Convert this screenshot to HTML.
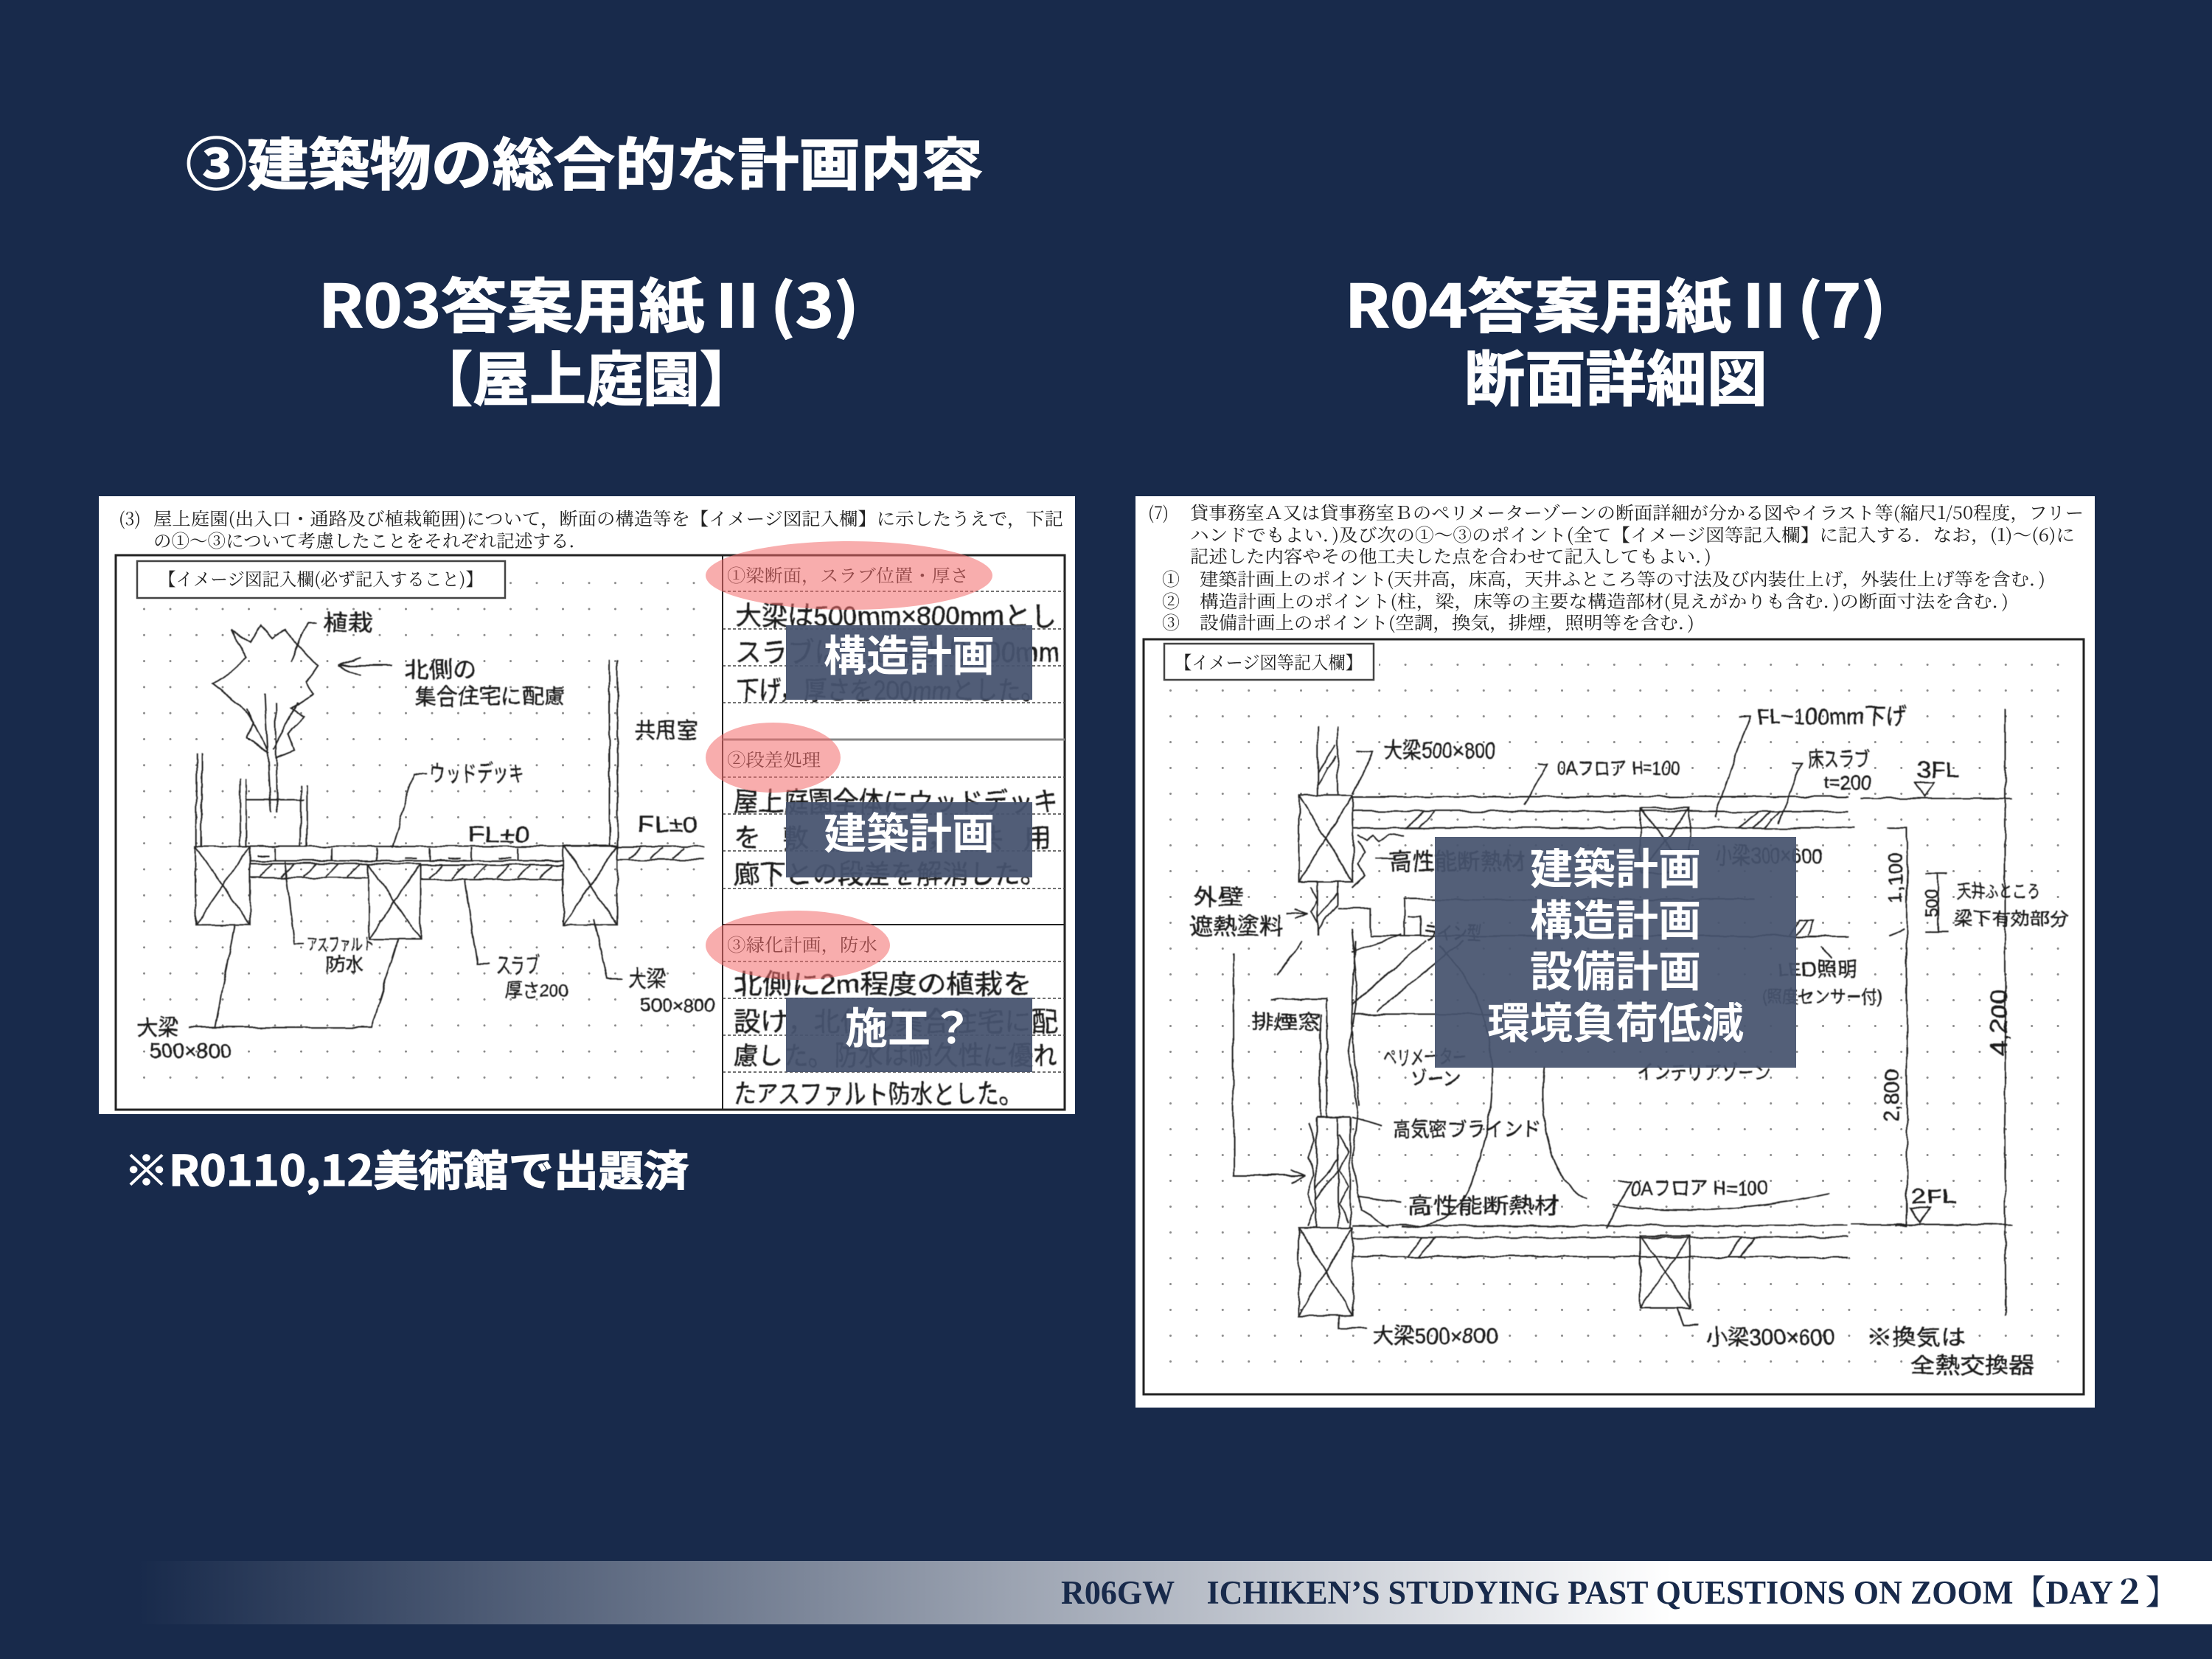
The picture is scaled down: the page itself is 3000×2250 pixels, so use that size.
<!DOCTYPE html>
<html lang="ja"><head><meta charset="utf-8"><title>建築物の総合的な計画内容</title>
<style>
html,body{margin:0;padding:0;background:#182a4b;width:3000px;height:2250px;overflow:hidden}
svg{display:block}
text{font-family:"Liberation Sans","Noto Sans CJK JP",sans-serif}
.t{font-family:"Noto Sans CJK JP",sans-serif;font-weight:700;fill:#fff;stroke:#fff;stroke-width:1.4px}
.o{font-family:"Noto Sans CJK JP",sans-serif;font-weight:700;fill:#fff;text-anchor:middle;font-size:58px}
.p{font-family:"Noto Serif CJK SC","Noto Sans CJK JP",serif;fill:#222;font-size:24px}
.h{font-family:"WenQuanYi Zen Hei","Noto Sans CJK JP",sans-serif;fill:#1c1c1c;font-size:30px;stroke:#1c1c1c;stroke-width:.4px}
.s line,.s polyline,.s rect,.s path{fill:none;stroke:#222;stroke-width:2;vector-effect:non-scaling-stroke}
</style></head><body>
<svg xmlns="http://www.w3.org/2000/svg" width="3000" height="2250" viewBox="0 0 3000 2250">
<defs>
<linearGradient id="g" x1="0" x2="1" y1="0" y2="0"><stop offset="0" stop-color="#182a4b"/><stop offset=".7395" stop-color="#fff"/><stop offset="1" stop-color="#fff"/></linearGradient>
<pattern id="d1" patternUnits="userSpaceOnUse" x="194" y="824.5" width="35.5" height="35.3"><circle cx="1.5" cy="1.5" r="1.5" fill="#8a8a8a"/></pattern>
<pattern id="d2" patternUnits="userSpaceOnUse" x="1586" y="900" width="35.4" height="35"><circle cx="1.5" cy="1.5" r="1.5" fill="#8a8a8a"/></pattern>
<filter id="w" x="-5%" y="-5%" width="110%" height="110%"><feTurbulence type="fractalNoise" baseFrequency=".035" numOctaves="2" seed="4"/><feDisplacementMap in="SourceGraphic" scale="6" xChannelSelector="R" yChannelSelector="G"/><feGaussianBlur stdDeviation=".5"/></filter>
</defs>
<rect width="3000" height="2250" fill="#182a4b"/>

<!-- headings -->
<text class="t" x="252" y="251" font-size="77" textLength="1081" lengthAdjust="spacingAndGlyphs">③建築物の総合的な計画内容</text>
<text class="t" x="432" y="444" font-size="80" textLength="733" lengthAdjust="spacingAndGlyphs">R03答案用紙Ⅱ(3)</text>
<text class="t" x="564" y="543" font-size="80" textLength="462" lengthAdjust="spacingAndGlyphs">【屋上庭園】</text>
<text class="t" x="1824" y="444" font-size="80" textLength="734" lengthAdjust="spacingAndGlyphs">R04答案用紙Ⅱ(7)</text>
<text class="t" x="1986" y="543" font-size="82" textLength="411" lengthAdjust="spacingAndGlyphs">断面詳細図</text>
<text class="t" x="168" y="1608" font-size="57" textLength="766" lengthAdjust="spacingAndGlyphs">※R0110,12美術館で出題済</text>

<!-- LEFT SHEET -->
<rect x="134" y="673" width="1324" height="838" fill="#fff"/>
<rect x="186" y="815" width="775" height="680" fill="url(#d1)"/>
<rect x="690" y="770" width="270" height="45" fill="url(#d1)"/>
<text class="p" x="161" y="712" textLength="30" lengthAdjust="spacingAndGlyphs">(3)</text>
<text class="p" x="208" y="712" textLength="1234" lengthAdjust="spacingAndGlyphs">屋上庭園(出入口・通路及び植栽範囲)について，断面の構造等を【イメージ図記入欄】に示したうえで，下記</text>
<text class="p" x="208" y="742" textLength="588" lengthAdjust="spacingAndGlyphs">の①～③について考慮したことをそれぞれ記述する．</text>
<rect x="157" y="753" width="1287" height="752" fill="none" stroke="#222" stroke-width="3"/>
<line x1="980" y1="753" x2="980" y2="1505" stroke="#222" stroke-width="2"/>
<rect x="186" y="761" width="499" height="50" fill="#fff" stroke="#444" stroke-width="2.5"/>
<text class="p" x="215" y="794" textLength="440" lengthAdjust="spacingAndGlyphs">【イメージ図記入欄(必ず記入すること)】</text>
<g stroke="#444" stroke-width="1.5" stroke-dasharray="4 3">
<line x1="980" x2="1444" y1="802" y2="802"/><line x1="980" x2="1444" y1="853" y2="853"/><line x1="980" x2="1444" y1="903" y2="903"/><line x1="980" x2="1444" y1="953" y2="953"/>
<line x1="980" x2="1444" y1="1054" y2="1054"/><line x1="980" x2="1444" y1="1104" y2="1104"/><line x1="980" x2="1444" y1="1154" y2="1154"/><line x1="980" x2="1444" y1="1205" y2="1205"/>
<line x1="980" x2="1444" y1="1304" y2="1304"/><line x1="980" x2="1444" y1="1354" y2="1354"/><line x1="980" x2="1444" y1="1404" y2="1404"/><line x1="980" x2="1444" y1="1454" y2="1454"/>
</g>
<line x1="980" x2="1444" y1="1003" y2="1003" stroke="#888" stroke-width="3"/>
<line x1="980" x2="1444" y1="1254" y2="1254" stroke="#222" stroke-width="2"/>
<text class="p" x="986" y="789" textLength="328" lengthAdjust="spacingAndGlyphs">①梁断面，スラブ位置・厚さ</text>
<text class="p" x="986" y="1039" textLength="127" lengthAdjust="spacingAndGlyphs">②段差処理</text>
<text class="p" x="986" y="1290" textLength="204" lengthAdjust="spacingAndGlyphs">③緑化計画，防水</text>
<g class="h" filter="url(#w)" style="font-size:36px">
<text x="997" y="848" textLength="436" lengthAdjust="spacingAndGlyphs">大梁は500mm×800mmとし</text>
<text x="997" y="897" textLength="440" lengthAdjust="spacingAndGlyphs">スラブは梁上端より200mm</text>
<text x="997" y="949" textLength="420" lengthAdjust="spacingAndGlyphs">下げ，厚さを200mmとした。</text>
<text x="995" y="1100" textLength="440" lengthAdjust="spacingAndGlyphs">屋上庭園全体にウッドデッキ</text>
<text x="995" y="1149" textLength="430" lengthAdjust="spacing">を敷設し，共用</text>
<text x="995" y="1198" textLength="425" lengthAdjust="spacingAndGlyphs">廊下との段差を解消した。</text>
<text x="995" y="1347" textLength="405" lengthAdjust="spacingAndGlyphs">北側に2m程度の植栽を</text>
<text x="995" y="1398" textLength="440" lengthAdjust="spacingAndGlyphs">設け，北側の集合住宅に配</text>
<text x="995" y="1444" textLength="440" lengthAdjust="spacingAndGlyphs">慮した。防水は耐久性に優れ</text>
<text x="995" y="1496" textLength="390" lengthAdjust="spacingAndGlyphs">たアスファルト防水とした。</text>
</g>
<g filter="url(#w)"><g class="s" transform="translate(130,670) scale(.8546,.542)">
<rect x="158" y="882" width="87" height="196"/><path d="M158 882L245 1078M245 882L158 1078"/>
<rect x="433" y="925" width="82" height="190"/><path d="M433 925L515 1115M515 925L433 1115"/>
<rect x="742" y="880" width="86" height="198"/><path d="M742 880L828 1078M828 880L742 1078"/>
<path d="M158 882H965M245 918H742M245 925H433M245 960H433M515 928H742M515 965H742M828 915H965"/>
<path d="M260 958L280 925M295 958L315 925M330 958L350 925M365 958L385 925M400 958L420 925M530 962L550 930M565 962L585 930M600 962L620 930M635 962L655 930M670 962L690 930M705 962L725 930M845 912L865 885M880 912L900 885M915 912L935 885"/>
<path d="M285 885V918M375 885V918M445 885V918M530 885V918M595 885V918M670 885V918M255 905H275M490 912H510M560 912H580M640 912H660"/>
<path d="M815 415V882M828 415V882M160 650V882M168 650V882M228 715V882M238 715V882M325 728V882M335 728V882M238 765H330"/>
<path d="M268 500L278 795M285 520L288 795M240 540L272 640M320 520L282 640"/>
<path d="M275 650L240 610L250 570L230 530L185 475L215 445L240 410L215 340L245 370L262 330L280 360L300 340L340 410L352 430L335 470L345 500L310 535L330 560L305 600L315 640L285 660"/>
<path d="M350 322H335L310 420"/>
<path d="M470 430H385M385 430L420 410M385 430L420 455"/>
<path d="M470 885L505 700H525M300 920L315 1125H330M585 965L605 1175H625M790 1065L812 1213H835M220 1080L190 1335M147 1335H437L480 1115"/>
</g>
<g class="h">
<text x="438" y="855" textLength="68" lengthAdjust="spacingAndGlyphs">植栽</text>
<text x="549" y="919" textLength="98" lengthAdjust="spacingAndGlyphs">北側の</text>
<text x="562" y="955" textLength="205" lengthAdjust="spacingAndGlyphs">集合住宅に配慮</text>
<text x="861" y="1001" textLength="85" lengthAdjust="spacingAndGlyphs">共用室</text>
<text x="583" y="1060" textLength="128" lengthAdjust="spacingAndGlyphs">ウッドデッキ</text>
<text x="634" y="1142" textLength="84" lengthAdjust="spacingAndGlyphs">FL±0</text>
<text x="865" y="1128" textLength="81" lengthAdjust="spacingAndGlyphs">FL±0</text>
<text x="416" y="1289" style="font-size:24px" textLength="90" lengthAdjust="spacingAndGlyphs">アスファルト</text>
<text x="442" y="1316" style="font-size:24px" textLength="51" lengthAdjust="spacingAndGlyphs">防水</text>
<text x="673" y="1320" textLength="59" lengthAdjust="spacingAndGlyphs">スラブ</text>
<text x="685" y="1352" style="font-size:26px" textLength="86" lengthAdjust="spacingAndGlyphs">厚さ200</text>
<text x="852" y="1338" textLength="51" lengthAdjust="spacingAndGlyphs">大梁</text>
<text x="869" y="1372" style="font-size:26px" textLength="100" lengthAdjust="spacingAndGlyphs">500×800</text>
<text x="187" y="1404" textLength="54" lengthAdjust="spacingAndGlyphs">大梁</text>
<text x="203" y="1434" style="font-size:26px" textLength="111" lengthAdjust="spacingAndGlyphs">500×800</text>
</g></g>
<g fill="#f26a6a" fill-opacity=".55">
<ellipse cx="1151.5" cy="780.5" rx="194.5" ry="46.5"/>
<ellipse cx="1048.5" cy="1027.5" rx="91.5" ry="47.5"/>
<ellipse cx="1082" cy="1282" rx="125" ry="47"/>
</g>
<g fill="#46536e" fill-opacity=".94">
<rect x="1066" y="848" width="334" height="101"/>
<rect x="1066" y="1088" width="334" height="102"/>
<rect x="1066" y="1353" width="334" height="101"/>
</g>
<text class="o" x="1233" y="910">構造計画</text>
<text class="o" x="1233" y="1151">建築計画</text>
<text class="o" x="1233" y="1415">施工？</text>

<!-- RIGHT SHEET -->
<rect x="1540" y="673" width="1301" height="1236" fill="#fff"/>
<rect x="1580" y="925" width="1225" height="945" fill="url(#d2)"/>
<rect x="1870" y="892" width="935" height="33" fill="url(#d2)"/>
<text class="p" x="1557" y="704" textLength="28" lengthAdjust="spacingAndGlyphs">(7)</text>
<text class="p" x="1614" y="704" textLength="1212" lengthAdjust="spacingAndGlyphs">貸事務室Ａ又は貸事務室Ｂのペリメーターゾーンの断面詳細が分かる図やイラスト等(縮尺1/50程度，フリー</text>
<text class="p" x="1614" y="734" textLength="1200" lengthAdjust="spacingAndGlyphs">ハンドでもよい．)及び次の①～③のポイント(全て【イメージ図等記入欄】に記入する．なお，(1)～(6)に</text>
<text class="p" x="1614" y="763" textLength="707" lengthAdjust="spacingAndGlyphs">記述した内容やその他工夫した点を合わせて記入してもよい．)</text>
<text class="p" x="1576" y="794">①</text><text class="p" x="1576" y="824">②</text><text class="p" x="1576" y="853">③</text>
<text class="p" x="1627" y="794" textLength="1147" lengthAdjust="spacingAndGlyphs">建築計画上のポイント(天井高，床高，天井ふところ等の寸法及び内装仕上げ，外装仕上げ等を含む．)</text>
<text class="p" x="1627" y="824" textLength="1097" lengthAdjust="spacingAndGlyphs">構造計画上のポイント(柱，梁，床等の主要な構造部材(見えがかりも含む．)の断面寸法を含む．)</text>
<text class="p" x="1627" y="853" textLength="671" lengthAdjust="spacingAndGlyphs">設備計画上のポイント(空調，換気，排煙，照明等を含む．)</text>
<rect x="1551" y="867" width="1275" height="1024" fill="none" stroke="#222" stroke-width="3"/>
<rect x="1579" y="873" width="284" height="49" fill="#fff" stroke="#444" stroke-width="2.5"/>
<text class="p" x="1593" y="907" textLength="255" lengthAdjust="spacingAndGlyphs">【イメージ図等記入欄】</text>
<g filter="url(#w)"><g class="s" transform="translate(1530,670) scale(.8418,.797)">
<rect x="275" y="512" width="87" height="148"/><path d="M275 512L362 660M362 512L275 660"/>
<rect x="275" y="1248" width="87" height="150"/><path d="M275 1248L362 1398M362 1248L275 1398"/>
<rect x="825" y="1262" width="80" height="123"/><path d="M825 1262L905 1385M905 1262L825 1385"/>
<rect x="825" y="535" width="80" height="110"/><path d="M825 535L905 645M905 535L825 645"/>
<path d="M305 395V512M338 395V512M305 660V750M338 660V700M338 705H390V752M303 1060V1248M358 1060V1248M338 1060V1248M303 1060H358"/>
<path d="M305 475L335 425M305 495L335 445M305 740L338 700M305 720L338 680M303 1180L338 1130M303 1200L338 1150"/>
<path d="M362 515H1160M362 540H1160M362 568H1170M362 1245H1160M362 1265H1160M362 1298H1160M390 752H1160"/>
<path d="M450 568L475 540M468 568L495 540M985 568L1015 540M1005 568L1035 540M1025 568L1050 540M450 1298L475 1265M468 1298L495 1265M965 1298L990 1265M985 1298L1010 1265"/>
<path d="M1222 568H1255V1245H1235M1225 752L1250 740M1413 365V1400M1180 518H1425M1165 1243H1425M1268 490H1298L1283 515ZM1260 1215H1290L1275 1240ZM1305 645V745M1285 645H1320M1285 745H1320"/>
<path d="M370 580L385 590L395 580L405 590L420 580L445 582M370 590L380 610L370 630L380 650L360 670M295 670L305 690L295 710L305 730M290 1070L300 1100L290 1130L300 1160L290 1190L300 1220L290 1245M340 1090L355 1120L340 1150L355 1180L340 1210L355 1240"/>
<path d="M360 740L370 850L355 950L370 1050L362 1130L375 1220L420 1248M366 760L360 900L372 1040M360 780L440 750M360 870L480 760M400 880L540 760M360 885H600M230 860H320V1060M310 885V1060M170 780V1160H285M285 1160L262 1150M285 1160L262 1172M255 715H290M290 715L270 708M290 715L270 725"/>
<path d="M280 760L240 820M500 770C590 850 610 1000 560 1150C540 1230 490 1250 440 1248M670 976C660 1060 680 1180 740 1198"/>
<path d="M368 438H395L362 510M660 460H675L638 530M985 378H1002L945 550M1070 458H1085L1048 560M790 1170H810L770 1250M360 1060L410 1075M370 1195L440 1205M340 1398V1420H385M885 1385L895 1415H920M1115 770L1135 790M780 1210C880 1225 1000 1220 1130 1190M400 620H430"/>
<path d="M445 752V690H1010M450 718H470V752M1065 752L1080 725H1105L1095 750M1075 750L1095 725"/>
</g>
<g class="h">
<text x="1877" y="1028" textLength="151" lengthAdjust="spacingAndGlyphs">大梁500×800</text>
<text x="2113" y="1051" style="font-size:26px" textLength="165" lengthAdjust="spacingAndGlyphs">0Aフロア H=100</text>
<text x="2382" y="982" textLength="204" lengthAdjust="spacingAndGlyphs">FL−100mm下げ</text>
<text x="2452" y="1039" style="font-size:28px" textLength="84" lengthAdjust="spacingAndGlyphs">床スラブ</text>
<text x="2473" y="1070" style="font-size:26px" textLength="65" lengthAdjust="spacingAndGlyphs">t=200</text>
<text x="2599" y="1054" textLength="59" lengthAdjust="spacingAndGlyphs">3FL</text>
<text x="1884" y="1179" textLength="185" lengthAdjust="spacingAndGlyphs">高性能断熱材</text>
<text x="2325" y="1171" textLength="146" lengthAdjust="spacingAndGlyphs">小梁300×600</text>
<text x="1618" y="1227" textLength="68" lengthAdjust="spacingAndGlyphs">外壁</text>
<text x="1614" y="1267" textLength="126" lengthAdjust="spacingAndGlyphs">遮熱塗料</text>
<text x="1930" y="1275" style="font-size:26px" textLength="80" lengthAdjust="spacingAndGlyphs">ライン型</text>
<text x="2410" y="1324" style="font-size:26px" textLength="109" lengthAdjust="spacingAndGlyphs">LED照明</text>
<text x="2389" y="1360" style="font-size:24px" textLength="164" lengthAdjust="spacingAndGlyphs">(照度センサー付)</text>
<text x="2654" y="1217" style="font-size:24px" textLength="113" lengthAdjust="spacingAndGlyphs">天井ふところ</text>
<text x="2650" y="1254" style="font-size:24px" textLength="155" lengthAdjust="spacingAndGlyphs">梁下有効部分</text>
<text x="1696" y="1395" style="font-size:26px" textLength="95" lengthAdjust="spacingAndGlyphs">排煙窓</text>
<text x="1875" y="1443" style="font-size:26px" textLength="114" lengthAdjust="spacingAndGlyphs">ペリメーター</text>
<text x="1913" y="1472" style="font-size:26px" textLength="67" lengthAdjust="spacingAndGlyphs">ゾーン</text>
<text x="2220" y="1464" style="font-size:26px" textLength="181" lengthAdjust="spacingAndGlyphs">インテリアゾーン</text>
<text x="1888" y="1541" style="font-size:28px" textLength="202" lengthAdjust="spacingAndGlyphs">高気密ブラインド</text>
<text x="1909" y="1646" textLength="206" lengthAdjust="spacingAndGlyphs">高性能断熱材</text>
<text x="2212" y="1621" style="font-size:28px" textLength="185" lengthAdjust="spacingAndGlyphs">0Aフロア H=100</text>
<text x="2592" y="1632" style="font-size:28px" textLength="62" lengthAdjust="spacingAndGlyphs">2FL</text>
<text x="1862" y="1822" textLength="169" lengthAdjust="spacingAndGlyphs">大梁500×800</text>
<text x="2313" y="1824" textLength="175" lengthAdjust="spacingAndGlyphs">小梁300×600</text>
<text x="2532" y="1824" textLength="134" lengthAdjust="spacingAndGlyphs">※換気は</text>
<text x="2591" y="1862" textLength="168" lengthAdjust="spacingAndGlyphs">全熱交換器</text>
<text transform="translate(2580,1225) rotate(-90)" style="font-size:28px" textLength="70" lengthAdjust="spacingAndGlyphs">1,100</text>
<text transform="translate(2575,1522) rotate(-90)" style="font-size:28px" textLength="72" lengthAdjust="spacingAndGlyphs">2,800</text>
<text transform="translate(2722,1432) rotate(-90)" style="font-size:32px" textLength="90" lengthAdjust="spacingAndGlyphs">4,200</text>
<text transform="translate(2628,1245) rotate(-90)" style="font-size:24px" textLength="40" lengthAdjust="spacingAndGlyphs">500</text>
</g></g>
<rect x="1946" y="1135" width="490" height="313" fill="#46536e" fill-opacity=".93"/>
<text class="o" x="2191" y="1199">建築計画</text>
<text class="o" x="2191" y="1269">構造計画</text>
<text class="o" x="2191" y="1338">設備計画</text>
<text class="o" x="2191" y="1408">環境負荷低減</text>

<!-- footer band -->
<rect x="186" y="2117" width="2814" height="86" fill="url(#g)"/>
<text x="1439" y="2175" font-size="45" font-weight="700" fill="#182a4b" style="font-family:'Liberation Serif','Noto Serif CJK SC',serif" textLength="1515" lengthAdjust="spacingAndGlyphs">R06GW　ICHIKEN’S STUDYING PAST QUESTIONS ON ZOOM【DAY２】</text>
</svg>
</body></html>
